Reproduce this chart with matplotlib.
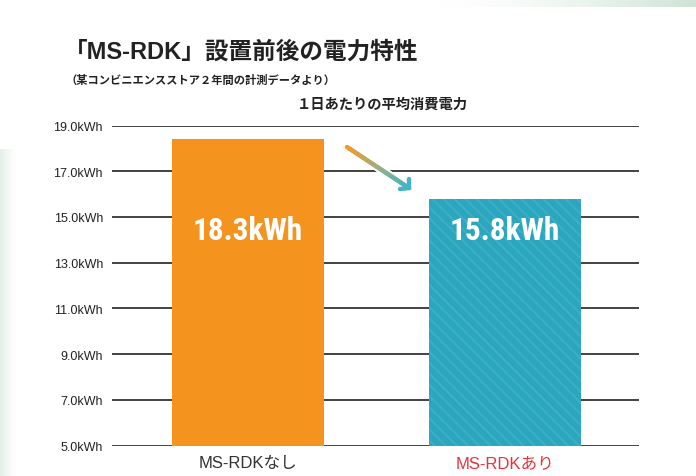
import matplotlib
matplotlib.use("Agg")
import matplotlib.pyplot as plt
import matplotlib.patheffects as pe
from matplotlib.collections import LineCollection
from matplotlib.colors import LinearSegmentedColormap
from matplotlib import font_manager
import numpy as np

plt.rcParams['font.family'] = ['Liberation Sans', 'Noto Sans CJK JP', 'DejaVu Sans']
plt.rcParams['hatch.linewidth'] = 1.5

# --- data ---
categories = ['MS-RDKなし', 'MS-RDKあり']
values = [18.4, 15.8]
value_labels = ['18.3kWh', '15.8kWh']
yticks = [5.0, 7.0, 9.0, 11.0, 13.0, 15.0, 17.0, 19.0]

title = '「MS-RDK」設置前後の電力特性'
subtitle = '（某コンビニエンスストア２年間の計測データより）'
chart_title = '１日あたりの平均消費電力'

W, H = 696, 477
fig = plt.figure(figsize=(W / 100, H / 100), dpi=100)
fig.patch.set_facecolor('white')


def fx(px):
    return px / W


def fy(py):
    return 1 - py / H


# pick a condensed face if one is installed
narrow = 'DejaVu Sans'
names = {f.name for f in font_manager.fontManager.ttflist}
for cand in ['Liberation Sans Narrow', 'DejaVu Sans Condensed', 'Roboto Condensed',
             'Open Sans Condensed', 'Noto Sans Condensed']:
    if cand in names:
        narrow = cand
        break

# soft green gradients in background (top band, left edge)
green = LinearSegmentedColormap.from_list('g', ['#ffffff', '#cfe3d6'])
top = fig.add_axes([fx(430), fy(8), fx(266), 8 / H], zorder=-5)
top.imshow(np.linspace(0, 1, 200)[None, :] ** 1.6, cmap=green, aspect='auto', vmin=0, vmax=1)
top.axis('off')
left = fig.add_axes([0, 0, fx(16), fy(150)], zorder=-5)
left.imshow(np.linspace(1, 0, 50)[None, :] ** 1.3 * 0.6, cmap=green, aspect='auto', vmin=0, vmax=1)
left.axis('off')

ax = fig.add_axes([fx(112), fy(446.7), fx(639 - 112), (446.7 - 126.5) / H])
ax.set_facecolor('none')

x = np.arange(len(categories))
bars = ax.bar(x, values, width=0.591, bottom=0, zorder=3, linewidth=0)
bars[0].set_facecolor('#f5931f')
bars[1].set_facecolor('#2aa6bf')
bars[1].set_edgecolor('#3daec5')
bars[1].set_hatch('\\\\\\')

for xi, lab in zip(x, value_labels):
    ax.text(xi, 14.45, lab, ha='center', va='center', color='white', fontsize=22.5,
            fontweight='bold', family=[narrow, 'DejaVu Sans'], fontstretch='condensed',
            zorder=5)

for yv in yticks:
    ax.axhline(yv, color='#222222', lw=1.2, zorder=1)

ax.set_ylim(5, 19)
ax.set_xlim(-0.529, 1.521)
ax.set_yticks(yticks)
ax.set_yticklabels([f'{v:.1f}kWh' for v in yticks])
ax.tick_params(axis='y', length=0, pad=6.5, labelsize=9, labelcolor='#222222')
ax.set_xticks(x)
ax.set_xticklabels(categories, fontsize=12)
ax.tick_params(axis='x', length=0, pad=7)
ax.get_xticklabels()[0].set_color('#333333')
ax.get_xticklabels()[1].set_color('#e8333c')
for s in ax.spines.values():
    s.set_visible(False)

# titles
fig.text(fx(64), fy(52), title, fontsize=17, fontweight='bold', color='#222222', va='center')
fig.text(fx(66), fy(80), subtitle, fontsize=8.1, fontweight='bold', color='#222222', va='center')
fig.text(fx(382), fy(105), chart_title, fontsize=10.3, fontweight='bold', color='#222222',
         va='center', ha='center')

# gradient arrow between the bars
p0 = np.array([fx(347), fy(148)])
p1 = np.array([fx(409), fy(189)])
n = 40
pts = np.linspace(p0, p1, n + 1)
segs = np.stack([pts[:-1], pts[1:]], axis=1)
arrow_cmap = LinearSegmentedColormap.from_list('a', ['#f39a26', '#9fb07e', '#46b3c6'])
lc = LineCollection(segs, colors=arrow_cmap(np.linspace(0, 1, n)), linewidths=3.2,
                    capstyle='round', transform=fig.transFigure, zorder=10,
                    path_effects=[pe.Stroke(linewidth=6, foreground='white'), pe.Normal()])
fig.add_artist(lc)
head = LineCollection([[(fx(400), fy(190)), (p1[0], p1[1]), (fx(409), fy(180))]],
                      colors='#46b3c6', linewidths=3.2, capstyle='round', joinstyle='miter',
                      transform=fig.transFigure, zorder=11)
fig.add_artist(head)

fig.savefig('out.png', dpi=100)
